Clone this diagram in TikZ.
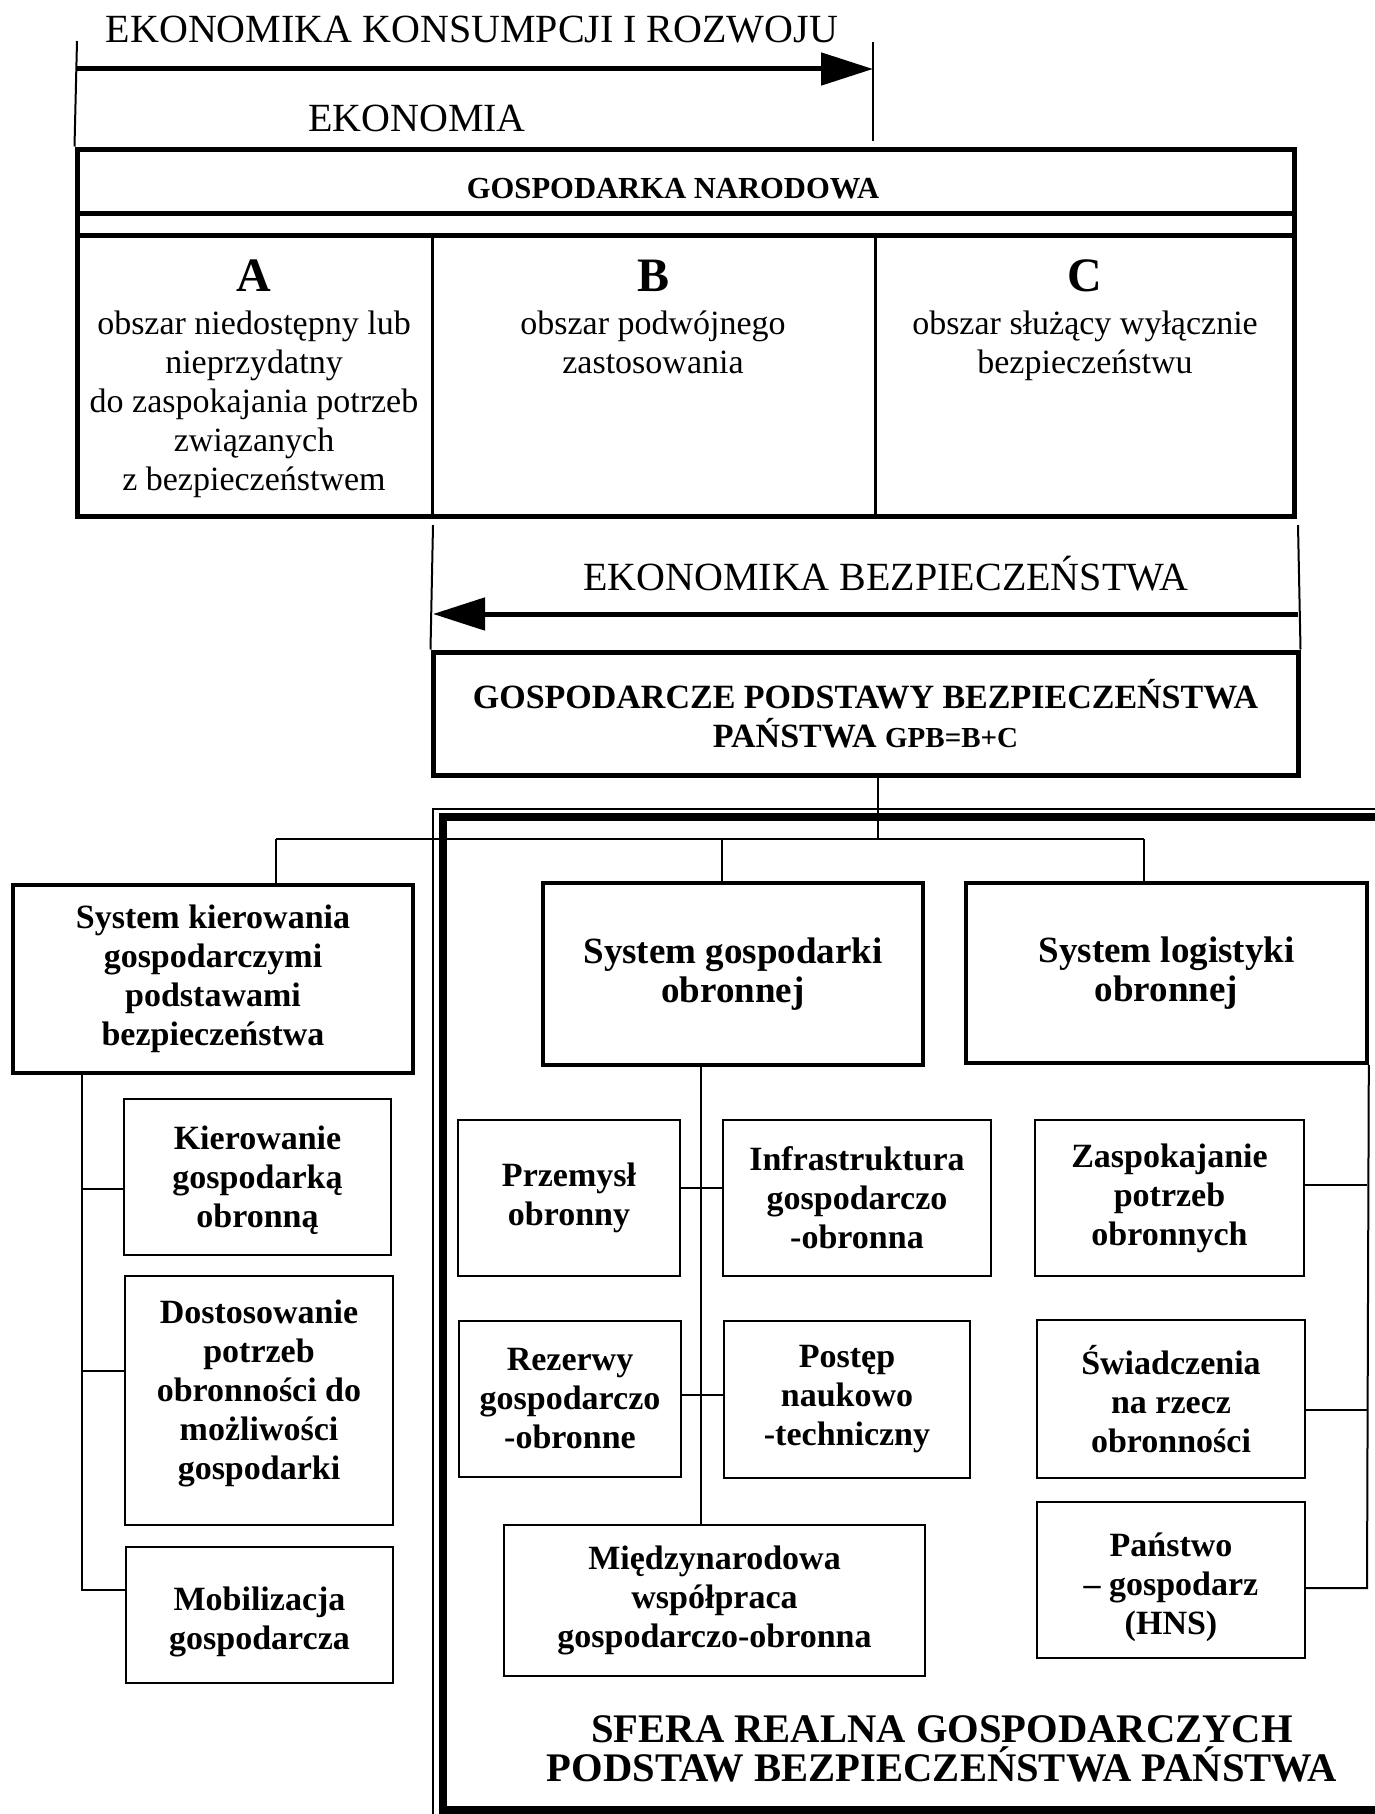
\documentclass[tikz,border=0pt]{standalone}
\usepackage{fontspec}
\setmainfont{Liberation Serif}
\usetikzlibrary{arrows.meta}
\begin{document}
\begin{tikzpicture}[x=0.5pt,y=-0.5pt,
  thickbox/.style={draw, line width=2.5pt, inner sep=0pt},
  midbox/.style={draw, line width=1.8pt, inner sep=0pt, align=center, font=\fontsize{17}{19.5}\selectfont\bfseries},
  bigmidbox/.style={midbox, font=\fontsize{18.5}{19.5}\selectfont\bfseries},
  subbox/.style={draw, line width=1.2pt, inner sep=0pt, align=center, font=\fontsize{17}{19.5}\selectfont\bfseries},
  conn/.style={line width=1pt},
  bigarrow/.style={line width=2.5pt, -{Triangle[length=26pt,width=16pt]}},
  lbl/.style={font=\fontsize{20}{24}\selectfont, inner sep=0pt, anchor=base},
  coltext/.style={font=\fontsize{17}{19.5}\selectfont, align=center, inner sep=0pt, anchor=base},
  letter/.style={font=\fontsize{24}{28}\selectfont\bfseries, inner sep=0pt, anchor=base},
  wh/.style 2 args={minimum width=#1pt, minimum height=#2pt},
  lastbase/.style={text height=#1pt, text depth=0pt},
]
\useasboundingbox (0,0) rectangle (1375,1814);
\fill[white] (0,0) rectangle (1375,1814);

% ---- top part
\node[lbl] (t1) at (472,43) {EKONOMIKA KONSUMPCJI I ROZWOJU};
\node[lbl] (t2) at (417,132) {EKONOMIA};
\node[thickbox, wh={608.5}{183.5}] (gn) at (685.5,332.5) {};
\coordinate (k1) at (77,41);
\coordinate (k2) at (873,42);
\coordinate (k3) at (873,141);
\coordinate (a1) at (77,69);
\coordinate (a2) at (873,69);
\draw[conn] (k1) -- (gn.north west);
\draw[conn] (k2) -- (k3);
\draw[bigarrow] (a1) -- (a2);

\draw[line width=2.5pt] (77,213) -- (1294,213);
\draw[line width=2.5pt] (77,235) -- (1294,235);
\node[font=\fontsize{15.3}{18}\selectfont\bfseries, inner sep=0pt, anchor=base] (gnt) at (673,198) {GOSPODARKA NARODOWA};
\draw[line width=1.5pt] (432,235) -- (432,516);
\draw[line width=1.5pt] (875,235) -- (875,516);

\node[letter] (la) at (254,291) {A};
\node[letter] (lb) at (653,291) {B};
\node[letter] (lc) at (1085,291) {C};
\node[coltext] (ta) at (254,490) {obszar niedostępny lub\\nieprzydatny\\do zaspokajania potrzeb\\związanych\\z bezpieczeństwem};
\node[coltext] (tb) at (653,373) {obszar podwójnego\\zastosowania};
\node[coltext] (tc) at (1085,373) {obszar służący wyłącznie\\bezpieczeństwu};

% ---- ekonomika bezpieczenstwa
\node[thickbox, align=center, font=\fontsize{17}{19.5}\selectfont\bfseries, wh={432.5}{61.5}] (gpb) at (865.5,713.5) {GOSPODARCZE PODSTAWY BEZPIECZEŃSTWA\\PAŃSTWA {\fontsize{14.5}{16}\selectfont GPB=B+C}};
\coordinate (e1) at (433,525);
\coordinate (e2) at (1298,525);
\coordinate (e3) at (433,614);
\coordinate (e4) at (1298,614);
\draw[conn] (e1) -- (gpb.north west);
\draw[conn] (e2) -- (gpb.north east);
\draw[bigarrow] (e4) -- (e3);
\node[lbl] (t3) at (886,590) {EKONOMIKA BEZPIECZEŃSTWA};

% ---- sfera frame
\begin{scope}
\clip (0,0) rectangle (1375,1814);
\draw[line width=1pt] (433,809) rectangle (1420,1850);
\draw[line width=4pt] (443,817) rectangle (1400,1810);
\end{scope}
\node[font=\fontsize{20.3}{19.5}\selectfont\bfseries, align=center, inner sep=0pt, anchor=base] (sf) at (942,1781) {SFERA REALNA GOSPODARCZYCH\\PODSTAW BEZPIECZEŃSTWA PAŃSTWA};

% ---- second level
\node[midbox, wh={200}{94}] (sk) at (213,979) {System kierowania\\gospodarczymi\\podstawami\\bezpieczeństwa};
\node[bigmidbox, wh={190}{91}] (sgo) at (733,974) {System gospodarki\\obronnej};
\node[bigmidbox, wh={200.5}{90}] (slo) at (1166.5,973) {System logistyki\\obronnej};

\coordinate (bus) at (878,839);
\coordinate (bL) at (276,839);
\coordinate (bM) at (722,839);
\coordinate (bR) at (1144,839);
\draw[conn] (gpb.south -| bus) -- (bus);
\draw[conn] (bL) -- (bR);
\draw[conn] (bL) -- (bL |- sk.north);
\draw[conn] (bM) -- (bM |- sgo.north);
\draw[conn] (bR) -- (bR |- slo.north);

% ---- left column
\node[subbox, wh={133.5}{78}, lastbase=50] (kie) at (257.5,1177) {Kierowanie\\gospodarką\\obronną};
\node[subbox, wh={134}{124.5}, lastbase=78.5] (dos) at (259,1400.5) {Dostosowanie\\potrzeb\\obronności do\\możliwości\\gospodarki};
\node[subbox, wh={133.5}{68}, lastbase=34] (mob) at (259.5,1615) {Mobilizacja\\gospodarcza};
\coordinate (s1) at (82,1189);
\coordinate (s2) at (82,1371);
\coordinate (s3) at (82,1590);
\draw[conn] (sk.south -| s3) -- (s3) -- (s3 -| mob.west);
\draw[conn] (s1) -- (s1 -| kie.west);
\draw[conn] (s2) -- (s2 -| dos.west);

% ---- middle column
\node[subbox, wh={111}{78}] (prz) at (569,1198) {Przemysł\\obronny};
\node[subbox, wh={134}{78}] (inf) at (857,1198) {Infrastruktura\\gospodarczo\\-obronna};
\node[subbox, wh={111}{78}] (rez) at (570,1399) {Rezerwy\\gospodarczo\\-obronne};
\node[subbox, wh={123}{78.5}] (pos) at (847,1399.5) {Postęp\\naukowo\\-techniczny};
\node[subbox, wh={210.5}{75.5}] (mie) at (714.5,1600.5) {Międzynarodowa\\współpraca\\gospodarczo-obronna};
\coordinate (cv) at (701,1300);
\coordinate (h1) at (701,1188);
\coordinate (h2) at (701,1395);
\draw[conn] (sgo.south -| cv) -- (mie.north -| cv);
\draw[conn] (h1 -| prz.east) -- (h1 -| inf.west);
\draw[conn] (h2 -| rez.east) -- (h2 -| pos.west);

% ---- right column
\node[subbox, wh={134.5}{78}] (zas) at (1169.5,1198) {Zaspokajanie\\potrzeb\\obronnych};
\node[subbox, wh={134}{79}] (swi) at (1171,1399) {Świadczenia\\na rzecz\\obronności};
\node[subbox, wh={134}{78}, lastbase=54] (pan) at (1171,1580) {Państwo\\– gospodarz\\(HNS)};
\coordinate (r1) at (1367,1185);
\coordinate (r2) at (1367,1410);
\coordinate (r3) at (1367,1588);
\draw[conn] (slo.south east) -- (r3) -- (r3 -| pan.east);
\draw[conn] (r1) -- (r1 -| zas.east);
\draw[conn] (r2) -- (r2 -| swi.east);
\end{tikzpicture}
\end{document}
